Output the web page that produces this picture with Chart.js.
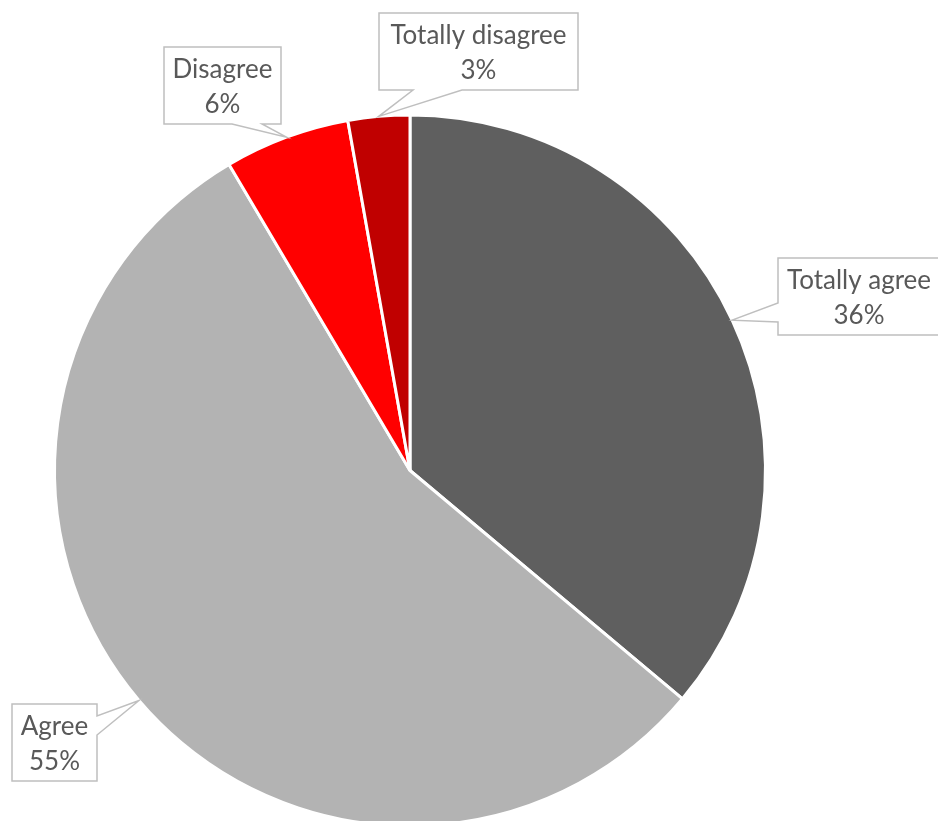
<!DOCTYPE html>
<html>
<head>
<meta charset="utf-8">
<script src="https://cdn.jsdelivr.net/npm/chart.js@4"></script>
<style>
  html, body { margin: 0; padding: 0; background: #fff; overflow: hidden; }
  #wrap { width: 938px; height: 821px; overflow: hidden; }
</style>
</head>
<body>
<div id="wrap"><canvas id="pie" width="938" height="941"></canvas></div>
<script>
// 数据：各类回答的占比（%）
const categories = ['Totally agree', 'Agree', 'Disagree', 'Totally disagree'];
const shares = [36.1, 55.4, 5.7, 2.8];
const sliceColors = ['#5f5f5f', '#b3b3b3', '#ff0000', '#c00000'];

// 标注框（带楔形指针）的位置：与数据分开存放
const calloutBoxes = [
    { x: 778, y: 258, w: 162, h: 77, side: 'left',   b0: 303, b1: 322 },
    { x: 12,  y: 704, w: 85,  h: 77, side: 'right',  b0: 716, b1: 735 },
    { x: 164, y: 47,  w: 117, h: 77, side: 'bottom', b0: 232, b1: 262 },
    { x: 379, y: 13,  w: 199, h: 77, side: 'bottom', b0: 413, b1: 462 }
];

// 画矩形 + 指向扇区外缘中点的楔形
function calloutPath(ctx, b, tip) {
    const r = b.x + b.w, btm = b.y + b.h;
    ctx.beginPath();
    ctx.moveTo(b.x, b.y);
    ctx.lineTo(r, b.y);
    if (b.side === 'right') {
        ctx.lineTo(r, b.b0); ctx.lineTo(tip.x, tip.y); ctx.lineTo(r, b.b1);
    }
    ctx.lineTo(r, btm);
    if (b.side === 'bottom') {
        ctx.lineTo(b.b1, btm); ctx.lineTo(tip.x, tip.y); ctx.lineTo(b.b0, btm);
    }
    ctx.lineTo(b.x, btm);
    if (b.side === 'left') {
        ctx.lineTo(b.x, b.b1); ctx.lineTo(tip.x, tip.y); ctx.lineTo(b.x, b.b0);
    }
    ctx.closePath();
}

const calloutPlugin = {
    id: 'callouts',
    afterDraw(chart) {
        const ctx = chart.ctx;
        const meta = chart.getDatasetMeta(0);
        const total = shares.reduce((a, v) => a + v, 0);
        ctx.save();
        meta.data.forEach((arc, i) => {
            const b = calloutBoxes[i];
            const p = arc.getProps(['x', 'y', 'startAngle', 'endAngle', 'outerRadius']);
            const mid = (p.startAngle + p.endAngle) / 2;
            const tip = { x: p.x + Math.cos(mid) * p.outerRadius, y: p.y + Math.sin(mid) * p.outerRadius };
            calloutPath(ctx, b, tip);
            ctx.fillStyle = '#ffffff';
            ctx.fill();
            ctx.lineWidth = 1.5;
            ctx.strokeStyle = '#bfbfbf';
            ctx.lineJoin = 'miter';
            ctx.stroke();

            const cx = b.x + b.w / 2;
            ctx.fillStyle = '#595959';
            ctx.font = '26px Lato';
            ctx.textAlign = 'center';
            ctx.textBaseline = 'alphabetic';
            ctx.fillText(categories[i], cx, b.y + 31);
            ctx.fillText(Math.round(shares[i] / total * 100) + '%', cx, b.y + 65.5);
        });
        ctx.restore();
    }
};

new Chart(document.getElementById('pie'), {
    type: 'pie',
    data: {
        labels: categories,
        datasets: [{
            data: shares,
            backgroundColor: sliceColors,
            borderColor: '#ffffff',
            borderWidth: 3,
            hoverOffset: 0,
            clip: false
        }]
    },
    options: {
        responsive: false,
        animation: false,
        radius: 355.5,
        layout: { padding: { left: 0, right: 118, top: 0, bottom: 0 } },
        plugins: {
            legend: { display: false },
            tooltip: { enabled: false }
        },
        events: []
    },
    plugins: [calloutPlugin]
});
</script>
</body>
</html>
